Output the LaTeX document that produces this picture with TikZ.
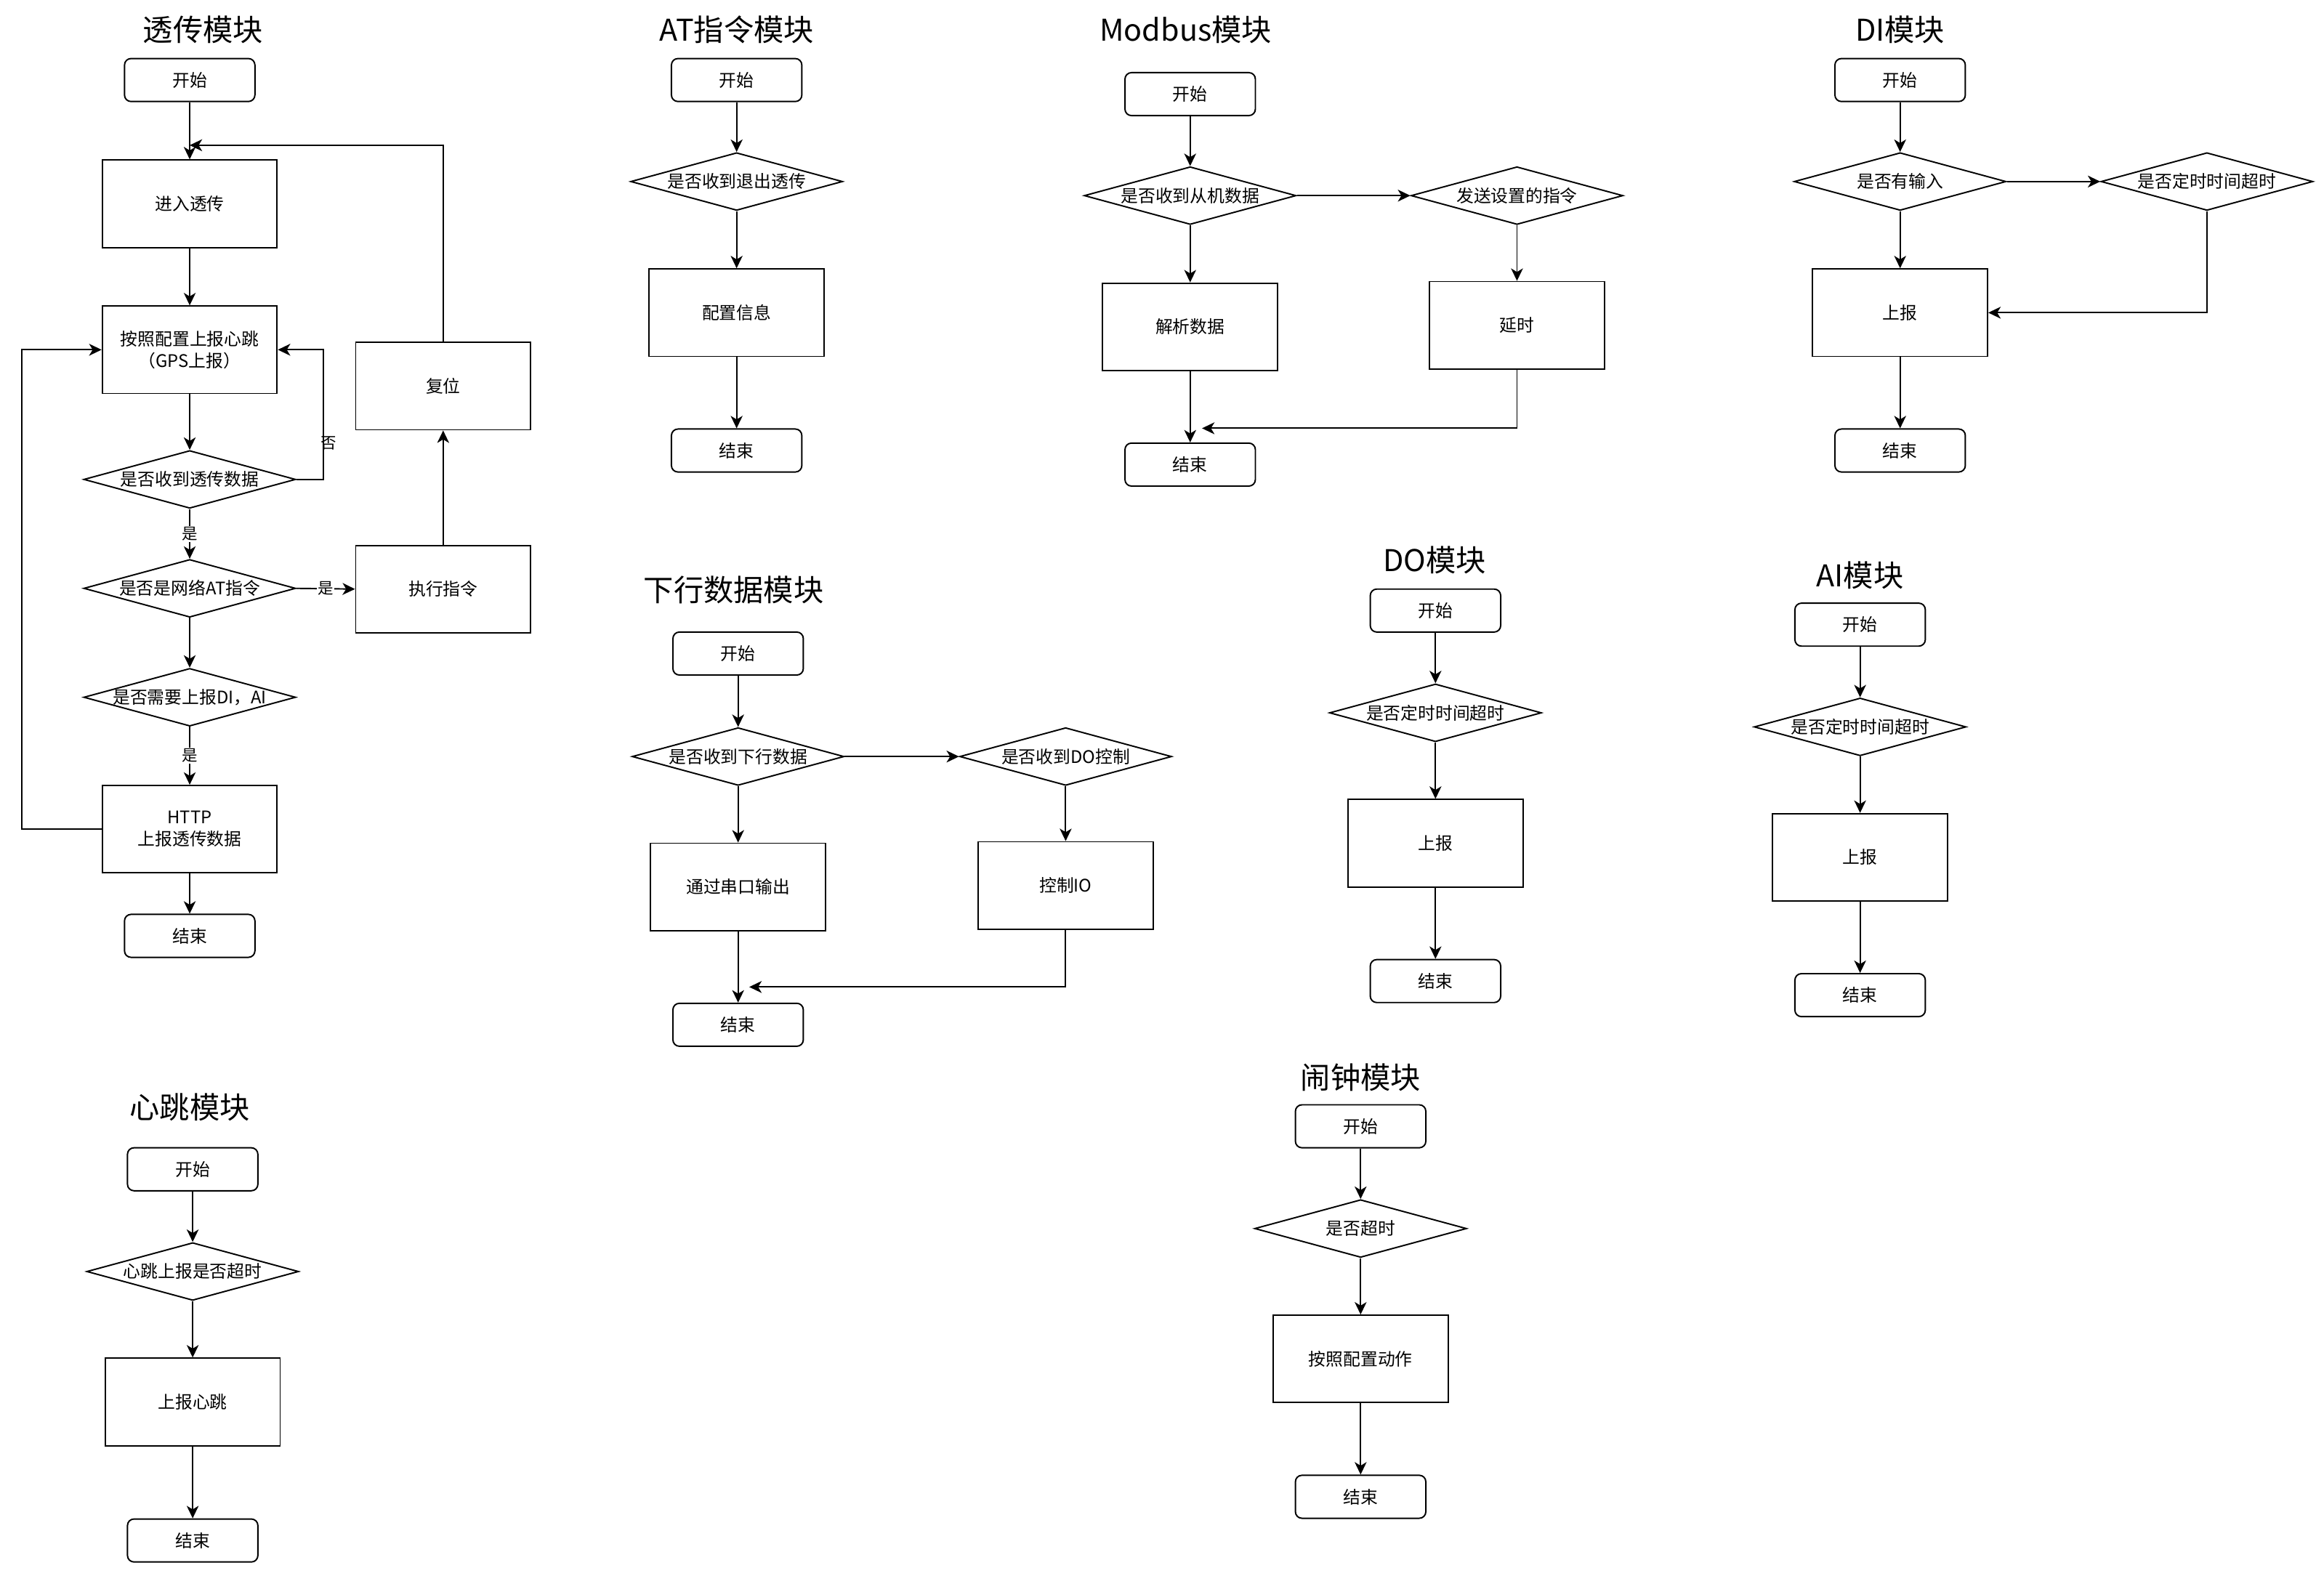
\documentclass[tikz,border=0pt]{standalone}
\usepackage{fontspec}
\setmainfont{Noto Sans CJK SC}
\usetikzlibrary{arrows.meta,shapes.geometric}
\newcommand\dtxt[1]{\makebox[0pt]{#1}}
\begin{document}
\begin{tikzpicture}[x=0.05cm,y=-0.05cm,
  every node/.style={font=\fontsize{16.6pt}{21pt}\selectfont},
  base/.style={draw, line width=1.35pt, inner sep=0pt},
  term/.style={base, rounded corners=0.22cm, minimum width=4.4cm, minimum height=1.45cm},
  proc/.style={base, align=center, minimum width=5.9cm, minimum height=2.95cm},
  dec/.style={base, shape=diamond, minimum width=7.15cm, minimum height=1.95cm},
  ttl/.style={font=\fontsize{28.8pt}{32pt}\selectfont, inner sep=0pt},
  lbl/.style={fill=white, inner sep=1pt, font=\fontsize{15pt}{18pt}\selectfont},
  lbltxt/.style={inner sep=1pt, font=\fontsize{15pt}{18pt}\selectfont},
  arr/.style={line width=1.35pt, -{Stealth[length=0.42cm,width=0.4cm,inset=0.12cm]}}
]
\fill[white] (0,0) rectangle (1568,1063);
\useasboundingbox (0,0) rectangle (1568,1063);

% ---------- 透传模块 ----------
\node[ttl] (t1) at (137,20) {透传模块};
\node[term] (a1) at (128,54) {开始};
\node[proc] (a2) at (128,137.5) {进入透传};
\node[proc] (a3) at (128,236) {按照配置上报心跳\\（GPS上报）};
\node[dec] (a4) at (128,323.5) {\dtxt{是否收到透传数据}};
\node[dec] (a5) at (128,397) {\dtxt{是否是网络AT指令}};
\node[dec] (a6) at (128,470.5) {\dtxt{是否需要上报DI，AI}};
\node[proc] (a7) at (128,559.5) {HTTP\\上报透传数据};
\node[term] (a8) at (128,631.5) {结束};
\node[proc] (a9) at (299,397.5) {执行指令};
\node[proc] (a10) at (299,260.5) {复位};
\coordinate (a11) at (128,98);
\draw[arr] (a1.south) -- (a2.north);
\draw[arr] (a2.south) -- (a3.north);
\draw[arr] (a3.south) -- (a4.north);
\draw[arr] (a4.south) -- node[lbl]{是} (a5.north);
\draw[arr] (a5.south) -- (a6.north);
\draw[arr] (a6.south) -- node[lbl]{是} (a7.north);
\draw[arr] (a7.south) -- (a8.north);
\draw[arr] (a5.east) -- node[lbl]{是} (a9.west);
\draw[arr] (a9.north) -- (a10.south);
\draw[arr] (a10.north) |- (a11);
\draw[arr] (a7.west) -- ++(-54,0) |- (a3.west);
\draw[arr] (a4.east) -- ++(18,0) |- node[lbltxt,pos=0.14,xshift=0.2cm]{否} (a3.east);

% ---------- AT指令模块 ----------
\node[ttl] (t2) at (497,20) {AT指令模块};
\node[term] (b1) at (497,54) {开始};
\node[dec] (b2) at (497,122.5) {\dtxt{是否收到退出透传}};
\node[proc] (b3) at (497,211) {配置信息};
\node[term] (b4) at (497,304) {结束};
\draw[arr] (b1.south) -- (b2.north);
\draw[arr] (b2.south) -- (b3.north);
\draw[arr] (b3.south) -- (b4.north);

% ---------- Modbus模块 ----------
\node[ttl] (t3) at (800,20) {Modbus模块};
\node[term] (c1) at (803,63.5) {开始};
\node[dec] (c2) at (803,132) {\dtxt{是否收到从机数据}};
\node[proc] (c3) at (803,220.5) {解析数据};
\node[term] (c4) at (803,313.5) {结束};
\node[dec] (c5) at (1023.5,132) {\dtxt{发送设置的指令}};
\node[proc] (c6) at (1023.5,219.5) {延时};
\coordinate (c7) at (811,289);
\draw[arr] (c1.south) -- (c2.north);
\draw[arr] (c2.south) -- (c3.north);
\draw[arr] (c3.south) -- (c4.north);
\draw[arr] (c2.east) -- (c5.west);
\draw[arr] (c5.south) -- (c6.north);
\draw[arr] (c6.south) |- (c7);

% ---------- DI模块 ----------
\node[ttl] (t4) at (1282,20) {DI模块};
\node[term] (d1) at (1282,54) {开始};
\node[dec] (d2) at (1282,122.5) {\dtxt{是否有输入}};
\node[proc] (d3) at (1282,211) {上报};
\node[term] (d4) at (1282,304) {结束};
\node[dec] (d5) at (1489,122.5) {\dtxt{是否定时时间超时}};
\draw[arr] (d1.south) -- (d2.north);
\draw[arr] (d2.south) -- (d3.north);
\draw[arr] (d3.south) -- (d4.north);
\draw[arr] (d2.east) -- (d5.west);
\draw[arr] (d5.south) |- (d3.east);

% ---------- 下行数据模块 ----------
\node[ttl] (t5) at (495,398) {下行数据模块};
\node[term] (e1) at (498,441) {开始};
\node[dec] (e2) at (498,510.5) {\dtxt{是否收到下行数据}};
\node[proc] (e3) at (498,598.5) {通过串口输出};
\node[term] (e4) at (498,691.5) {结束};
\node[dec] (e5) at (719,510.5) {\dtxt{是否收到DO控制}};
\node[proc] (e6) at (719,597.5) {控制IO};
\coordinate (e7) at (505.5,666);
\draw[arr] (e1.south) -- (e2.north);
\draw[arr] (e2.south) -- (e3.north);
\draw[arr] (e3.south) -- (e4.north);
\draw[arr] (e2.east) -- (e5.west);
\draw[arr] (e5.south) -- (e6.north);
\draw[arr] (e6.south) |- (e7);

% ---------- DO模块 ----------
\node[ttl] (t6) at (968,378) {DO模块};
\node[term] (f1) at (968.5,412) {开始};
\node[dec] (f2) at (968.5,481) {\dtxt{是否定时时间超时}};
\node[proc] (f3) at (968.5,569) {上报};
\node[term] (f4) at (968.5,662) {结束};
\draw[arr] (f1.south) -- (f2.north);
\draw[arr] (f2.south) -- (f3.north);
\draw[arr] (f3.south) -- (f4.north);

% ---------- AI模块 ----------
\node[ttl] (t7) at (1255,388) {AI模块};
\node[term] (g1) at (1255,421.5) {开始};
\node[dec] (g2) at (1255,490.5) {\dtxt{是否定时时间超时}};
\node[proc] (g3) at (1255,578.5) {上报};
\node[term] (g4) at (1255,671.5) {结束};
\draw[arr] (g1.south) -- (g2.north);
\draw[arr] (g2.south) -- (g3.north);
\draw[arr] (g3.south) -- (g4.north);

% ---------- 心跳模块 ----------
\node[ttl] (t8) at (128,747) {心跳模块};
\node[term] (h1) at (130,789) {开始};
\node[dec] (h2) at (130,858) {\dtxt{心跳上报是否超时}};
\node[proc] (h3) at (130,946) {上报心跳};
\node[term] (h4) at (130,1039.5) {结束};
\draw[arr] (h1.south) -- (h2.north);
\draw[arr] (h2.south) -- (h3.north);
\draw[arr] (h3.south) -- (h4.north);

% ---------- 闹钟模块 ----------
\node[ttl] (t9) at (918,727) {闹钟模块};
\node[term] (i1) at (918,760) {开始};
\node[dec] (i2) at (918,829) {\dtxt{是否超时}};
\node[proc] (i3) at (918,917) {按照配置动作};
\node[term] (i4) at (918,1010) {结束};
\draw[arr] (i1.south) -- (i2.north);
\draw[arr] (i2.south) -- (i3.north);
\draw[arr] (i3.south) -- (i4.north);
\end{tikzpicture}
\end{document}
